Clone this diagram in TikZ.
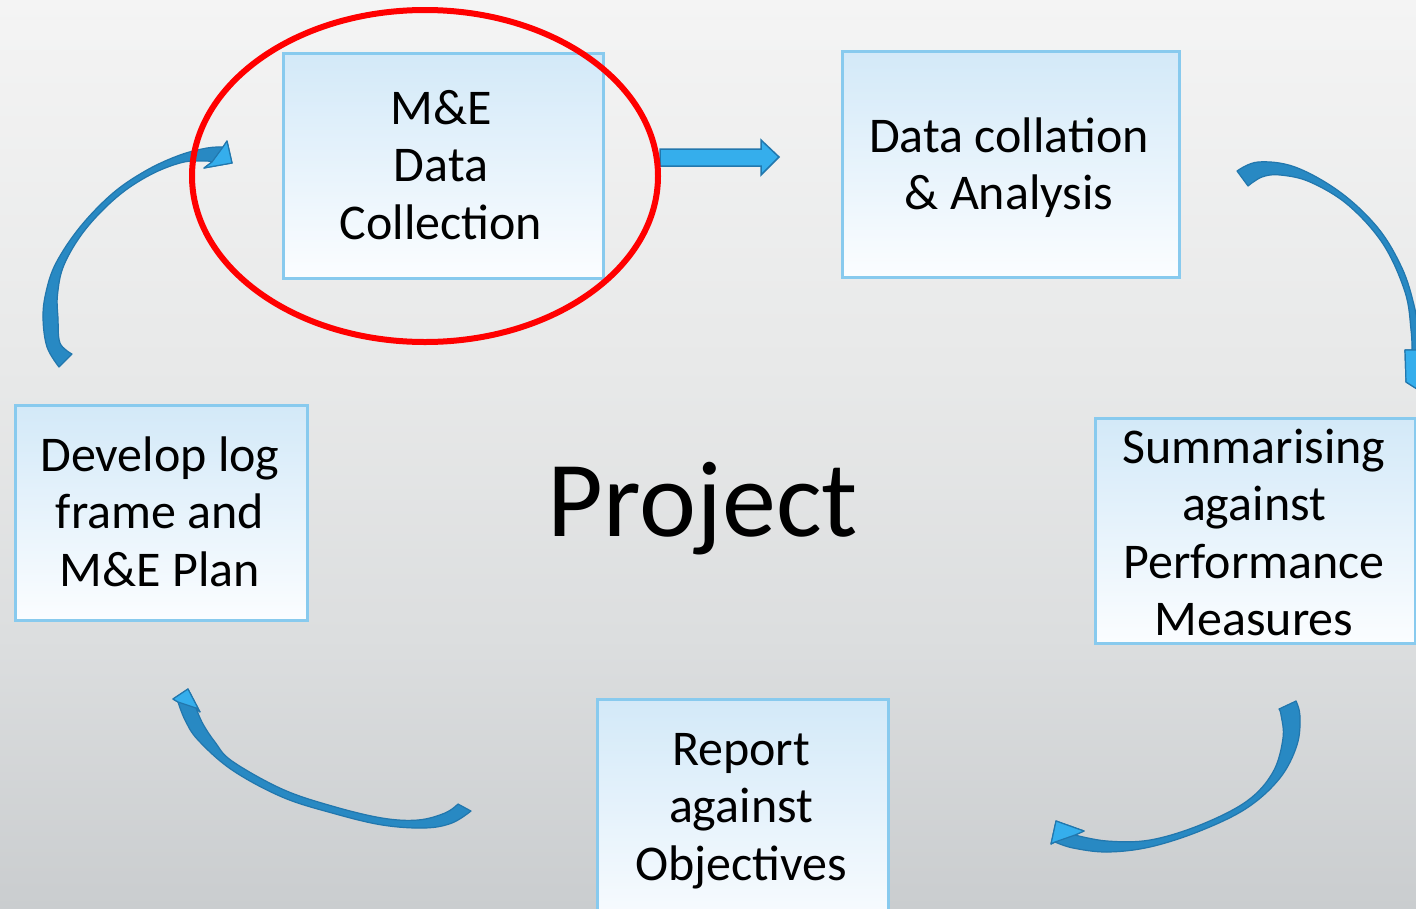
\documentclass[tikz,border=0pt]{standalone}
\usepackage{fontspec}
\setmainfont{Carlito}
\definecolor{bgtop}{HTML}{F4F4F4}
\definecolor{bgmid}{HTML}{E8E9E9}
\definecolor{bglow}{HTML}{DCDEDF}
\definecolor{bgbot}{HTML}{CACDCF}
\definecolor{boxline}{HTML}{88CAEE}
\definecolor{boxtop}{HTML}{D3E9F8}
\definecolor{boxbot}{HTML}{FBFDFF}
\definecolor{bandfill}{HTML}{2889C3}
\definecolor{bandline}{HTML}{2277AD}
\definecolor{headfill}{HTML}{35AEEC}
\definecolor{ringred}{HTML}{FF0000}
\pgfdeclareverticalshading{backdrop}{100bp}{color(0bp)=(bgbot); color(25bp)=(bgbot); color(40bp)=(bglow); color(55bp)=(bgmid); color(75bp)=(bgtop); color(100bp)=(bgtop)}
\begin{document}
\begin{tikzpicture}[x=1pt,y=-1pt,
  stagebox/.style={draw=boxline, line width=3pt, top color=boxtop, bottom color=boxbot,
    inner sep=0pt, anchor=north west},
  stagetext/.style={font=\fontsize{50}{57.5}\selectfont, align=center, anchor=base, text=black},
  band/.style={fill=bandfill, draw=bandline, line width=1.2pt, line join=round},
  headpart/.style={fill=headfill, draw=bandline, line width=1.2pt, line join=round}]
\useasboundingbox (0,0) rectangle (1416,908);
% backdrop
\shade[shading=backdrop] (0,0) rectangle (1416,908);

% stage boxes
\node[stagebox, minimum width=320pt, minimum height=225pt] (collect) at (282,52) {};
\node[stagebox, minimum width=337pt, minimum height=226pt] (collate) at (841,50) {};
\node[stagebox, minimum width=320pt, minimum height=225pt] (summ) at (1094,417) {};
\node[stagebox, minimum width=291pt, minimum height=240pt] (report) at (596,698) {};
\node[stagebox, minimum width=292pt, minimum height=215pt] (logframe) at (14,404) {};

% stage labels (anchored at the baseline of their last line)
\node[stagetext] (collect-t) at (441,239) {M\&E\\Data\\Collection};
\node[stagetext] (collate-t) at (1009,209.5) {Data collation\\\& Analysis};
\node[stagetext] (summ-t) at (1254,635.5) {Summarising\\against\\Performance\\Measures};
\node[stagetext] (report-t) at (741,880) {Report\\against\\Objectives};
\node[stagetext] (logframe-t) at (160,586) {Develop log\\frame and\\M\&E Plan};

% centre title
\node[font=\fontsize{108}{120}\selectfont, anchor=base] (project) at (703,536) {Project};

% straight block arrow between the two top stages
\draw[fill=headfill, draw=bandline, line width=1.5pt, line join=miter]
  (660,149) -- (761,149) -- (761,140) -- (779,157) -- (761,175) -- (761,166) -- (660,166) -- cycle;

% curved arrow: plan -> collection
\draw[band] plot[smooth, tension=0.6] coordinates {(59,367) (47,347) (43,318) (46,292) (56,263) (80,227) (113,193) (147,170) (180,155) (207,148) (223,147)}
  -- (227,141) -- (232,163) -- (204,168)
  -- plot[smooth, tension=0.6] coordinates {(212,162) (205,161) (182,162.5) (150,175) (117,197) (85,230) (64,265) (57.5,295) (58,318) (60,343) (72,354)} -- cycle;
\draw[headpart] (223,147) -- (227,141) -- (232,163) -- (204,168) -- (212,162) -- cycle;

% curved arrow: collation -> summarising
\draw[band] plot[smooth, tension=0.6] coordinates {(1237,171) (1258,162) (1295,167) (1340,192) (1378,228) (1402,268) (1414,305) (1419,335) (1421,350)}
  -- (1448,350) -- (1428,396) -- (1406,382) -- (1405,350)
  -- plot[smooth, tension=0.6] coordinates {(1412,350) (1411,330) (1405,292) (1383,244) (1348,205) (1310,182) (1280,175) (1262,177) (1248,186)} -- cycle;
\draw[headpart] (1421,350) -- (1448,350) -- (1428,396) -- (1406,382) -- (1405,350) -- cycle;

% curved arrow: summarising -> report
\draw[band] plot[smooth, tension=0.6] coordinates {(1296,701) (1300,716) (1297,745) (1280,778) (1247,808) (1200,831) (1150,847) (1107,852) (1073,848) (1055,842)}
  -- (1051,844) -- (1056,821) -- (1084,831)
  -- plot[smooth, tension=0.6] coordinates {(1075,835) (1107,841) (1150,840) (1200,825) (1247,801) (1273,772) (1283,738) (1281,715) (1279,709)} -- cycle;
\draw[headpart] (1055,842) -- (1051,844) -- (1056,821) -- (1084,831) -- (1075,835) -- cycle;

% curved arrow: report -> plan
\draw[band] plot[smooth, tension=0.6] coordinates {(471,811) (452,823) (425,828) (382,825) (332,813) (282,797) (232,770) (198,740) (185,720) (178,702)}
  -- (173,699) -- (188,689) -- (200,712)
  -- plot[smooth, tension=0.6] coordinates {(196,708) (203,724) (215,742) (232,761) (282,789) (332,806) (382,818) (418,820) (445,813) (458,804)} -- cycle;
\draw[headpart] (178,702) -- (173,699) -- (188,689) -- (200,712) -- (196,708) -- cycle;

% highlight ring round the collection stage
\draw[ringred, line width=6pt] (425,176) ellipse [x radius=233pt, y radius=166pt];
\end{tikzpicture}
\end{document}
